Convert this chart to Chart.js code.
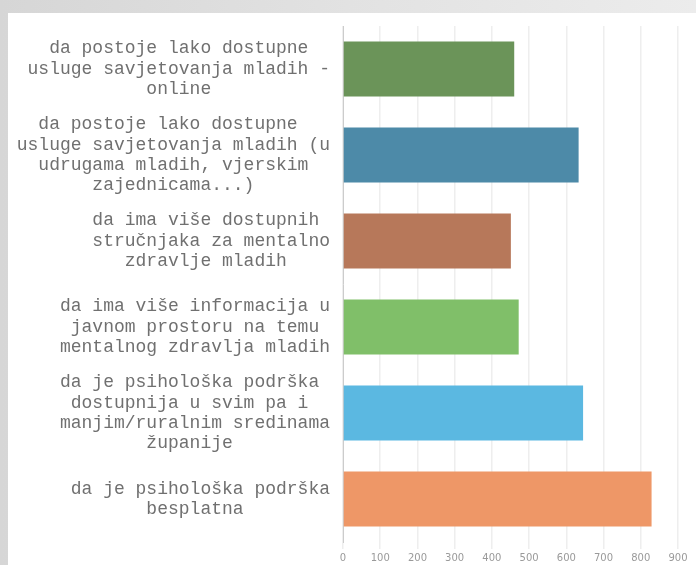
<!DOCTYPE html>
<html>
<head>
<meta charset="utf-8">
<script src="https://cdn.jsdelivr.net/npm/chart.js@4/dist/chart.umd.min.js"></script>
<style>
  html, body { margin: 0; padding: 0; }
  body {
    width: 696px; height: 565px; overflow: hidden; position: relative;
    background: linear-gradient(90deg, #d6d6d6 0%, #e2e2e2 50%, #ececec 100%);
  }
  #panel { position: absolute; left: 8px; top: 13px; right: 0; bottom: 0; background: #fff; }
  #wrap { position: absolute; left: 0; top: 0; width: 696px; height: 565px; }
</style>
</head>
<body>
<div id="panel"></div>
<div id="wrap"><canvas id="canvas"></canvas></div>
<script>
// answers (each label split into lines like in the original)
const categories = [
    ['da postoje lako dostupne', 'usluge savjetovanja mladih -', 'online'],
    ['da postoje lako dostupne', 'usluge savjetovanja mladih (u', 'udrugama mladih, vjerskim', 'zajednicama...)'],
    ['da ima više dostupnih', 'stručnjaka za mentalno', 'zdravlje mladih'],
    ['da ima više informacija u', 'javnom prostoru na temu', 'mentalnog zdravlja mladih'],
    ['da je psihološka podrška', 'dostupnija u svim pa i', 'manjim/ruralnim sredinama', 'županije'],
    ['da je psihološka podrška', 'besplatna']
];
const counts = [460, 633, 451, 472, 645, 829];
const barColors = ['#6b9459', '#4d8aa8', '#b7785a', '#80bf69', '#5bb8e1', '#ee9767'];
const xTicks = [0, 100, 200, 300, 400, 500, 600, 700, 800, 900];

// monospace font -> centre every line inside its block with spaces
function centerLines(lines){
    const w = Math.max(...lines.map(l => l.length));
    return lines.map(l => {
        const extra = w - l.length;
        const left = Math.floor(extra / 2);
        return ' '.repeat(left) + l + ' '.repeat(extra - left);
    });
}

const ctx = document.getElementById('canvas').getContext('2d');
const myChart = new Chart(ctx, {
    type: 'bar',
    data: {
        labels: categories,
        datasets: [{
            data: counts,
            backgroundColor: barColors,
            borderWidth: 0,
            categoryPercentage: 1,
            barPercentage: 0.64
        }]
    },
    options: {
        indexAxis: 'y',
        responsive: true,
        maintainAspectRatio: false,
        animation: false,
        layout: { padding: { top: 26, right: 18, left: 0, bottom: 0 } },
        plugins: { legend: { display: false }, tooltip: { enabled: false } },
        scales: {
            x: {
                min: 0,
                max: 900,
                afterBuildTicks: scale => { scale.ticks = xTicks.map(v => ({ value: v })); },
                afterFit: scale => { scale.height = 23; },
                grid: { color: '#eeeeee', lineWidth: 1.5, drawTicks: true, tickLength: 7 },
                border: { display: false },
                ticks: {
                    color: '#9a9a9a',
                    padding: 3,
                    maxRotation: 0,
                    font: { family: 'DejaVu Sans', size: 10 }
                }
            },
            y: {
                afterFit: scale => {
                    scale.width = 343;
                    // no extra room for the tall multi-line labels
                    scale.paddingTop = 0;
                    scale.paddingBottom = 0;
                },
                grid: { display: false, drawTicks: false },
                border: { display: true, color: '#cccccc', width: 1 },
                ticks: {
                    color: '#707070',
                    padding: 13,
                    crossAlign: 'near',
                    font: { family: 'Liberation Mono', size: 18, lineHeight: 1.13 },
                    callback: function(value){
                        return centerLines(categories[value]);
                    }
                }
            }
        }
    }
});
</script>
</body>
</html>
